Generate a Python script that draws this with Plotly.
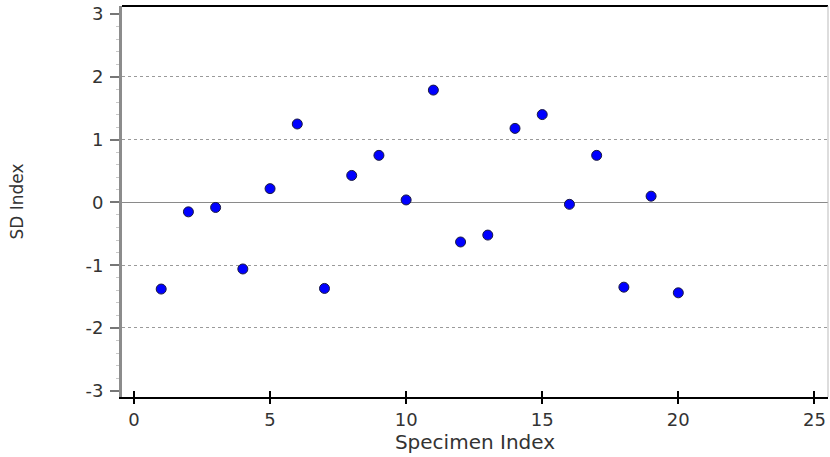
import plotly.graph_objects as go

# Specimen indices and their SD index values
specimen_index = list(range(1, 21))
sd_index = [-1.38, -0.15, -0.08, -1.06, 0.22, 1.25, -1.37, 0.43, 0.75, 0.04,
            1.79, -0.63, -0.52, 1.18, 1.40, -0.03, 0.75, -1.35, 0.10, -1.44]

x_ticks = [0, 5, 10, 15, 20, 25]
y_ticks = [-3, -2, -1, 0, 1, 2, 3]
y_tick_text = ["-3", "-2", "-1", "0", "1", "2", "3"]
y_grid_vals = [-2, -1, 1, 2]
x_range = [-0.44, 25.5]
y_range = [-3.1, 3.13]

font_family = "DejaVu Sans, Verdana, sans-serif"
text_color = "#333333"

fig = go.Figure()

fig.add_trace(go.Scatter(
    x=specimen_index, y=sd_index, mode="markers",
    marker=dict(symbol="circle", size=10, color="#0000ff",
                line=dict(color="#1a1a40", width=1)),
    showlegend=False, hoverinfo="x+y",
))

# invisible trace carrying the overlay axes (inward x ticks, dashed y grid)
fig.add_trace(go.Scatter(x=[None], y=[None], xaxis="x2", yaxis="y2",
                         showlegend=False, hoverinfo="skip"))

fig.update_layout(
    width=830, height=457,
    margin=dict(l=122, r=2, t=6, b=60),
    paper_bgcolor="white", plot_bgcolor="white",
    font=dict(family=font_family, size=18, color=text_color),
    xaxis=dict(
        range=x_range, tickvals=x_ticks, showgrid=False, zeroline=False,
        showline=True, linecolor="black", linewidth=2,
        ticks="outside", ticklen=5, tickwidth=2, tickcolor="black",
        tickfont=dict(size=18, color=text_color),
        title=dict(text="Specimen Index", standoff=4,
                   font=dict(size=20, color=text_color)),
    ),
    xaxis2=dict(
        range=x_range, tickvals=x_ticks, overlaying="x", side="bottom",
        showgrid=False, zeroline=False, showline=False, showticklabels=False,
        ticks="inside", ticklen=6, tickwidth=2, tickcolor="black",
    ),
    yaxis=dict(
        range=y_range, tickvals=y_ticks, ticktext=y_tick_text, showgrid=False,
        zeroline=True, zerolinecolor="#8a8a8a", zerolinewidth=1,
        showline=True, linecolor="#8c8c8c", linewidth=3,
        ticks="outside", ticklen=9, tickwidth=2, tickcolor="#777777",
        ticklabelstandoff=3,
        minor=dict(dtick=0.2, ticks="outside", ticklen=3, tickwidth=1,
                   tickcolor="#c8c8c8", showgrid=False),
        tickfont=dict(size=18, color=text_color),
        title=dict(text="SD Index", standoff=58,
                   font=dict(size=17, color=text_color)),
    ),
    yaxis2=dict(
        range=y_range, tickvals=y_grid_vals, overlaying="y", side="left",
        showgrid=True, gridcolor="#9a9a9a", gridwidth=1, griddash="3px,3px",
        zeroline=False, showline=False, showticklabels=False, ticks="",
    ),
    shapes=[
        # top frame line
        dict(type="line", xref="paper", yref="paper", x0=0, x1=1, y0=1, y1=1,
             line=dict(color="black", width=2)),
        # light right frame line
        dict(type="line", xref="paper", yref="paper", x0=1, x1=1, y0=0, y1=1,
             line=dict(color="#bbbbbb", width=1)),
    ],
)

fig.write_html("out.html")
